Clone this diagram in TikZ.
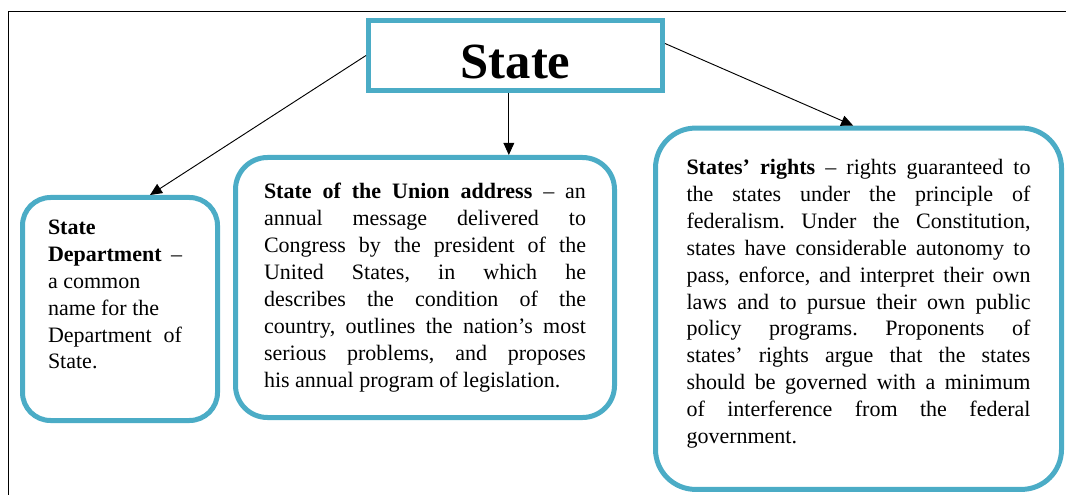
\documentclass[tikz,border=0pt]{standalone}
\usepackage{fontspec}
\setmainfont{Liberation Serif}
\usetikzlibrary{positioning,arrows.meta,calc}
\usepackage{xcolor}
\definecolor{boxblue}{HTML}{4BACC6}
\tolerance=10000
\hbadness=10000
\frenchspacing

\begin{document}
\begin{tikzpicture}[
  x=0.75pt, y=-0.75pt,
  title/.style={rectangle, draw=boxblue, line width=3.75pt, minimum width=220.5pt,
    minimum height=52.5pt, text height=34pt, text depth=0pt,
    font=\fontsize{38}{40}\selectfont\bfseries},
  term/.style={rectangle, draw=boxblue, line width=3.75pt, inner sep=0pt,
    font=\fontsize{16.5}{20.2}\selectfont},
  >={Triangle[length=9pt,width=8pt]},
]
  \useasboundingbox (0,0) rectangle (1066,495);
  % Frame
  \draw[line width=0.75pt] (8,495) |- (1066,12);

  % Boxes
  \node[title] (state) at (515.5,55.5) {State};
  \node[term, rounded corners=21pt, minimum width=146.25pt, minimum height=167.25pt]
    (dept) at (120,309)
    {\parbox[t]{100.5pt}{%
     \textbf{State}\\
     \textbf{Department} –\linebreak
     a common\\
     name for the\\
     Department of\linebreak
     State.\rule[-22pt]{0pt}{0pt}}\kern7.5pt};
  \node[term, rounded corners=24pt, minimum width=284.25pt, minimum height=195pt,
    text width=241.5pt, align=justify] (union) at (425,287.5)
    {\textbf{State of the Union address} – an\linebreak
     annual message delivered to\linebreak
     Congress by the president of the\linebreak
     United States, in which he\linebreak
     describes the condition of the\linebreak
     country, outlines the nation’s most\linebreak
     serious problems, and proposes\linebreak
     his annual program of legislation.};
  \node[term, rounded corners=30pt, minimum width=304.5pt, minimum height=271pt,
    text width=258pt, align=justify] (rights) at (858.5,308.75)
    {\textbf{States’ rights} – rights guaranteed to\linebreak
     the states under the principle of\linebreak
     federalism. Under the Constitution,\linebreak
     states have considerable autonomy to\linebreak
     pass, enforce, and interpret their own\linebreak
     laws and to pursue their own public\linebreak
     policy programs. Proponents of\linebreak
     states’ rights argue that the states\linebreak
     should be governed with a minimum\linebreak
     of interference from the federal\linebreak
     government.\rule[-11pt]{0pt}{0pt}};

  % Arrows
  \draw[->, line width=0.7pt] (state.west) -- ([xshift=22.5pt]dept.north);
  \draw[->, line width=0.7pt] ([xshift=-5pt]state.south) -- ([xshift=-5pt]state.south |- union.north);
  \draw[->, line width=0.7pt] ([yshift=9pt]state.east) -- ([xshift=-4pt]rights.north);
\end{tikzpicture}
\end{document}
